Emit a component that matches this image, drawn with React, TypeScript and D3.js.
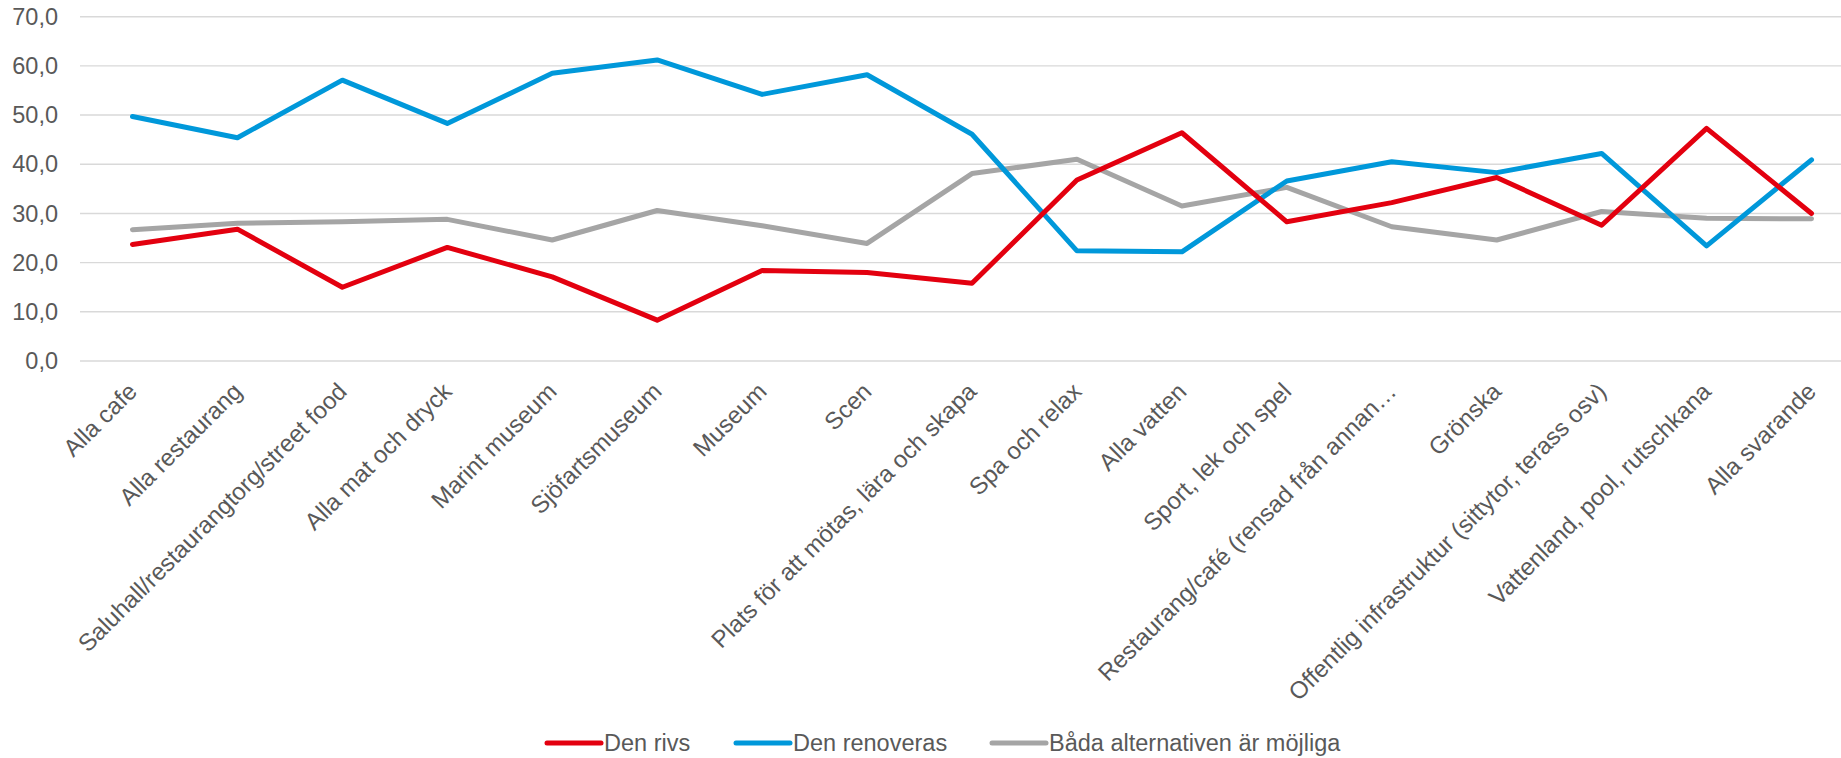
import React from "react";
import * as d3 from "d3";

const categories: string[] = [
  "Alla cafe",
  "Alla restaurang",
  "Saluhall/restaurangtorg/street food",
  "Alla mat och dryck",
  "Marint museum",
  "Sjöfartsmuseum",
  "Museum",
  "Scen",
  "Plats för att mötas, lära och skapa",
  "Spa och relax",
  "Alla vatten",
  "Sport, lek och spel",
  "Restaurang/café (rensad från annan…",
  "Grönska",
  "Offentlig infrastruktur (sittytor, terass osv)",
  "Vattenland, pool, rutschkana",
  "Alla svarande",
];

const denRivs: number[] = [23.7, 26.8, 15.0, 23.1, 17.1, 8.3, 18.4, 18.0, 15.8, 36.8, 46.4, 28.3, 32.2, 37.3, 27.6, 47.3, 30.0];
const denRenoveras: number[] = [49.7, 45.4, 57.1, 48.3, 58.5, 61.2, 54.2, 58.2, 46.1, 22.4, 22.2, 36.6, 40.5, 38.3, 42.2, 23.4, 40.9];
const badaMojliga: number[] = [26.7, 28.0, 28.3, 28.8, 24.6, 30.6, 27.5, 23.9, 38.1, 41.0, 31.5, 35.3, 27.3, 24.6, 30.4, 29.0, 28.9];

const yTicks: number[] = [0, 10, 20, 30, 40, 50, 60, 70];

const seriesNames: string[] = ["Den rivs", "Den renoveras", "Båda alternativen är möjliga"];
const seriesColors: string[] = ["#E3000F", "#0098DA", "#A5A5A5"];

const W = 1841;
const H = 758;
const FONT = "'Liberation Sans', Arial, sans-serif";
const TEXT = "#595959";

export default function App() {
  const x = d3.scaleBand<string>().domain(categories).range([80, 1864]).padding(0);
  const y = d3.scaleLinear().domain([0, 70]).range([361, 16.7]);
  const cx = (c: string) => (x(c) as number) + x.bandwidth() / 2;

  const allSeries = [denRivs, denRenoveras, badaMojliga];
  const line = d3
    .line<number>()
    .x((_, i) => cx(categories[i]))
    .y((v) => y(v));

  const fmt = (v: number) => v.toFixed(1).replace(".", ",");

  const legendX = [547, 736, 992];
  const legendY = 743;

  return (
    <svg
      width={W}
      height={H}
      style={{ position: "absolute", left: 0, top: 0, background: "#fff" }}
      fontFamily={FONT}
    >
      <rect x={0} y={0} width={W} height={H} fill="#fff" />
      {yTicks.map((t) => (
        <g key={t}>
          <line x1={80} x2={W} y1={y(t)} y2={y(t)} stroke="#D9D9D9" strokeWidth={1.4} />
          <text
            x={58}
            y={y(t)}
            dy="0.35em"
            textAnchor="end"
            fontSize={23.5}
            fill={TEXT}
          >
            {fmt(t)}
          </text>
        </g>
      ))}
      {categories.map((c) => (
        <text
          key={c}
          transform={`translate(${cx(c)},${387}) rotate(-45)`}
          textAnchor="end"
          dy="0.35em"
          fontSize={24}
          fill={TEXT}
        >
          {c}
        </text>
      ))}
      {allSeries.map((s, i) => (
        <path
          key={i}
          d={line(s) || ""}
          fill="none"
          stroke={seriesColors[i]}
          strokeWidth={5}
          strokeLinejoin="round"
          strokeLinecap="round"
        />
      )).reverse()}
      {seriesNames.map((n, i) => (
        <g key={n}>
          <line
            x1={legendX[i]}
            x2={legendX[i] + 54}
            y1={legendY}
            y2={legendY}
            stroke={seriesColors[i]}
            strokeWidth={5}
            strokeLinecap="round"
          />
          <text x={legendX[i] + 57} y={legendY} dy="0.35em" fontSize={23.5} fill={TEXT}>
            {n}
          </text>
        </g>
      ))}
    </svg>
  );
}
